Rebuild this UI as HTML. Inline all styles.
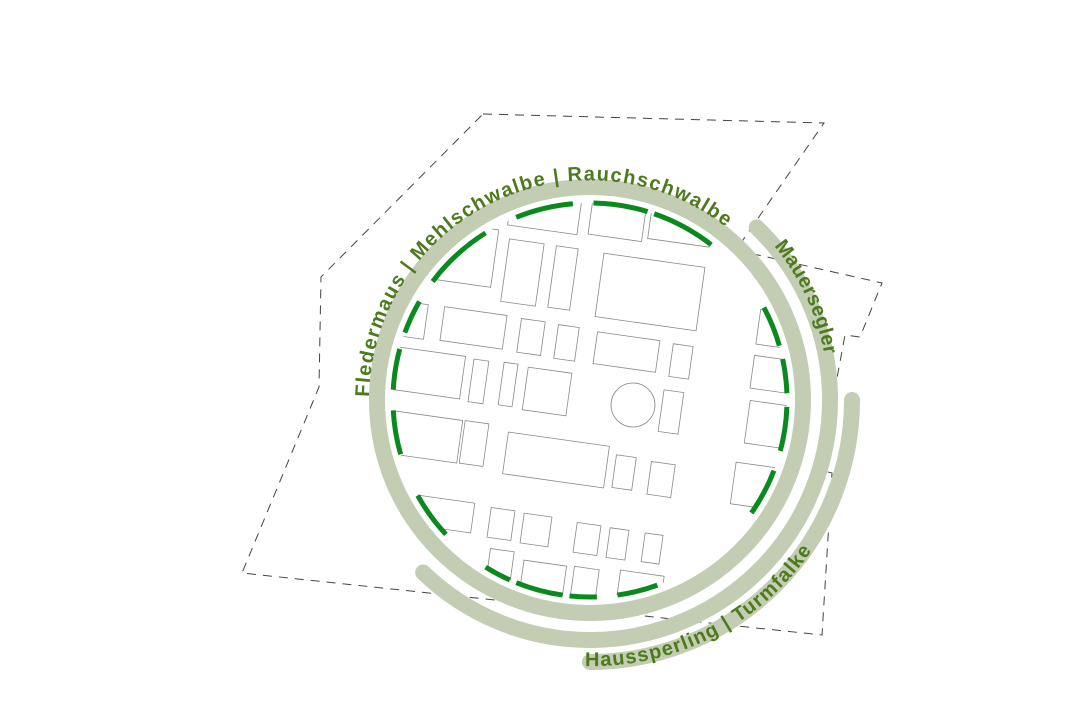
<!DOCTYPE html>
<html><head><meta charset="utf-8"><style>
html,body{margin:0;padding:0;background:#fff;}
svg{display:block;}
text{font-family:"Liberation Sans",sans-serif;font-size:20px;font-weight:bold;fill:#4c7a1c;}
</style></head><body>
<svg width="1080" height="720" viewBox="0 0 1080 720" xmlns="http://www.w3.org/2000/svg">
<defs>
<clipPath id="c"><circle cx="590" cy="400" r="197"/></clipPath>
<path id="p1" d="M 369 397 A 221 221 0 0 1 763.1 264"/>
<path id="p2" d="M 774 246 A 237 237 0 0 1 827 420"/>
<path id="p3" d="M 585 666 A 266 266 0 0 0 846 480"/>
</defs>
<polygon points="483,114 824,123 736,250 882,283 860,337 845,335 820,470 832,473 822,635 242,573 319,387 321,277" fill="none" stroke="#444" stroke-width="1" stroke-dasharray="9,7"/>
<g clip-path="url(#c)" fill="none" stroke="#8a8a8a" stroke-width="0.8">
<g>
<rect x="510" y="190" width="70" height="40" transform="rotate(8 545 210)"/>
<rect x="590" y="206" width="54" height="32" transform="rotate(8 617 222)"/>
<rect x="650" y="205" width="62" height="38" transform="rotate(8 681 224)"/>
<rect x="430" y="225" width="65" height="58" transform="rotate(8 462 254)"/>
<rect x="505" y="241" width="35" height="63" transform="rotate(8 522 272)"/>
<rect x="552" y="247" width="22" height="62" transform="rotate(8 563 278)"/>
<rect x="599" y="260" width="102" height="64" transform="rotate(8 650 292)"/>
<rect x="390" y="302" width="36" height="35" transform="rotate(8 408 320)"/>
<rect x="442" y="311" width="63" height="34" transform="rotate(8 474 328)"/>
<rect x="519" y="320" width="24" height="34" transform="rotate(8 531 337)"/>
<rect x="556" y="326" width="21" height="34" transform="rotate(8 567 343)"/>
<rect x="595" y="336" width="63" height="32" transform="rotate(8 626 352)"/>
<rect x="671" y="345" width="20" height="33" transform="rotate(8 681 361)"/>
<rect x="758" y="312" width="40" height="35" transform="rotate(8 778 330)"/>
<rect x="388" y="351" width="75" height="43" transform="rotate(8 426 372)"/>
<rect x="471" y="360" width="15" height="43" transform="rotate(8 479 381)"/>
<rect x="501" y="363" width="14" height="43" transform="rotate(8 508 385)"/>
<rect x="525" y="370" width="44" height="43" transform="rotate(8 547 392)"/>
<rect x="661" y="391" width="20" height="42" transform="rotate(8 671 412)"/>
<rect x="752" y="358" width="40" height="33" transform="rotate(8 772 375)"/>
<rect x="385" y="415" width="75" height="43" transform="rotate(8 422 437)"/>
<rect x="462" y="422" width="24" height="43" transform="rotate(8 474 444)"/>
<rect x="505" y="439" width="102" height="42" transform="rotate(8 556 460)"/>
<rect x="614" y="456" width="20" height="33" transform="rotate(8 624 473)"/>
<rect x="649" y="463" width="24" height="33" transform="rotate(8 661 480)"/>
<rect x="747" y="403" width="40" height="43" transform="rotate(8 767 425)"/>
<rect x="733" y="465" width="45" height="42" transform="rotate(8 755 486)"/>
<rect x="415" y="499" width="58" height="30" transform="rotate(8 444 514)"/>
<rect x="489" y="509" width="24" height="30" transform="rotate(8 501 524)"/>
<rect x="522" y="515" width="28" height="30" transform="rotate(8 536 530)"/>
<rect x="575" y="524" width="24" height="30" transform="rotate(8 587 539)"/>
<rect x="608" y="529" width="19" height="30" transform="rotate(8 618 544)"/>
<rect x="643" y="534" width="18" height="29" transform="rotate(8 652 549)"/>
<rect x="488" y="550" width="24" height="35" transform="rotate(8 500 567)"/>
<rect x="521" y="563" width="43" height="40" transform="rotate(8 543 583)"/>
<rect x="572" y="568" width="25" height="35" transform="rotate(8 585 585)"/>
<rect x="618" y="573" width="44" height="35" transform="rotate(8 640 590)"/>
</g>
<circle cx="633" cy="405" r="22"/>
</g>
<g fill="none" stroke="#0a8a1e" stroke-width="5">
<circle cx="590" cy="400" r="197" stroke-dasharray="58.5 2000" transform="rotate(-112 590 400)"/>
<circle cx="590" cy="400" r="197" stroke-dasharray="55 2000" transform="rotate(-89 590 400)"/>
<circle cx="590" cy="400" r="197" stroke-dasharray="65.3 2000" transform="rotate(-71 590 400)"/>
<circle cx="590" cy="400" r="197" stroke-dasharray="72.2 2000" transform="rotate(-143 590 400)"/>
<circle cx="590" cy="400" r="197" stroke-dasharray="34.4 2000" transform="rotate(-160 590 400)"/>
<circle cx="590" cy="400" r="197" stroke-dasharray="41.3 2000" transform="rotate(-177 590 400)"/>
<circle cx="590" cy="400" r="197" stroke-dasharray="44.7 2000" transform="rotate(164 590 400)"/>
<circle cx="590" cy="400" r="197" stroke-dasharray="48.1 2000" transform="rotate(137 590 400)"/>
<circle cx="590" cy="400" r="197" stroke-dasharray="27.5 2000" transform="rotate(114 590 400)"/>
<circle cx="590" cy="400" r="197" stroke-dasharray="48.1 2000" transform="rotate(98 590 400)"/>
<circle cx="590" cy="400" r="197" stroke-dasharray="27.5 2000" transform="rotate(88 590 400)"/>
<circle cx="590" cy="400" r="197" stroke-dasharray="41.3 2000" transform="rotate(70 590 400)"/>
<circle cx="590" cy="400" r="197" stroke-dasharray="48.1 2000" transform="rotate(21 590 400)"/>
<circle cx="590" cy="400" r="197" stroke-dasharray="44.7 2000" transform="rotate(2 590 400)"/>
<circle cx="590" cy="400" r="197" stroke-dasharray="34.4 2000" transform="rotate(-12 590 400)"/>
<circle cx="590" cy="400" r="197" stroke-dasharray="41.3 2000" transform="rotate(-28 590 400)"/>
</g>
<g fill="none" stroke="#c2cdb3" stroke-width="16" stroke-linecap="round">
<circle cx="590" cy="400" r="213"/>
<circle cx="590" cy="400" r="240" stroke-dasharray="754 3000" transform="rotate(-46 590 400)"/>
<circle cx="590" cy="400" r="262" stroke-dasharray="411.5 3000" transform="rotate(0 590 400)"/>
</g>
<text letter-spacing="1.4"><textPath href="#p1" startOffset="0">Fledermaus | Mehlschwalbe | Rauchschwalbe</textPath></text>
<text letter-spacing="0.3"><textPath href="#p2" startOffset="0">Mauersegler</textPath></text>
<text letter-spacing="1.2"><textPath href="#p3" startOffset="0">Haussperling | Turmfalke</textPath></text>
</svg>
</body></html>
